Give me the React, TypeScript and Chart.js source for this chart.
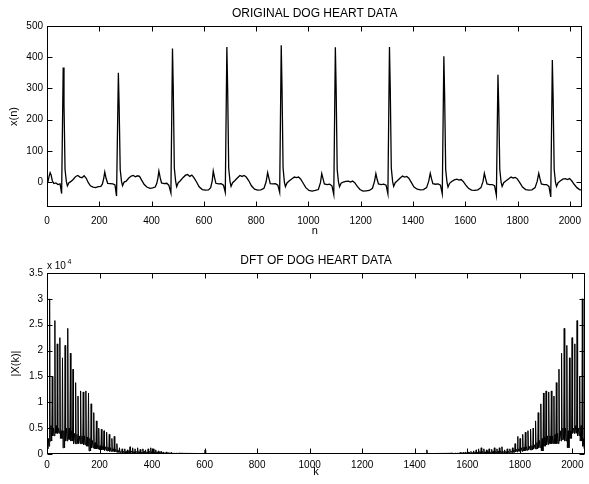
import React, { useEffect, useRef } from "react";
import { Chart, registerables } from "chart.js";

Chart.register(...registerables);

const FONT = '"Liberation Sans", Arial, Helvetica, sans-serif';

// ---- tick labels ----
const nTicks = [0, 200, 400, 600, 800, 1000, 1200, 1400, 1600, 1800, 2000];
const heartTicks = [0, 100, 200, 300, 400, 500];
const dftTicks = [0, 0.5, 1, 1.5, 2, 2.5, 3, 3.5];

// ---- ORIGINAL DOG HEART DATA: [n, x(n)] samples ----
const heartSamples: [number, number][] = [
  [0, -6], [4, 2], [8, 18], [12, 30], [16, 22], [20, 5], [26, -5], [34, -3], [42, -8], [50, -6], [56, -37],
  [62, 367], [65, 250], [69, 40], [74, 2], [78, -12], [84, -2], [92, 2], [100, 8], [110, 18], [118, 21],
  [126, 16], [134, 14], [142, 20], [150, 12], [158, -2], [166, -12], [176, -16], [186, -18], [196, -15],
  [206, -14], [212, -6], [217, 12], [221, 32], [226, 12], [232, -4], [242, -5], [252, -6], [260, -9], [266, -45],
  [273, 350], [276, 240], [280, 40], [285, 2], [289, -12], [295, 0], [303, 3], [312, 12], [322, 19], [330, 21],
  [338, 17], [346, 20], [354, 18], [362, 6], [372, -8], [382, -16], [394, -20], [404, -19], [414, -16], [420, -4],
  [424, 12], [428, 35], [433, 14], [438, -3], [448, -5], [458, -4], [466, -10], [474, -35],
  [480, 428], [483, 300], [487, 45], [492, 3], [496, -15], [502, -2], [510, 4], [520, 14], [530, 22], [538, 24],
  [546, 18], [554, 22], [562, 14], [572, 0], [582, -15], [594, -24], [606, -26], [618, -25], [626, -18], [632, 4],
  [636, 35], [641, 14], [646, -4], [656, -6], [666, -5], [675, -10], [682, -33],
  [688, 433], [691, 300], [695, 45], [700, 2], [704, -14], [710, -2], [718, 4], [728, 13], [738, 21], [746, 18],
  [754, 21], [762, 16], [772, 4], [782, -12], [794, -23], [806, -26], [818, -25], [830, -20], [838, 0], [844, 30],
  [849, 12], [854, -5], [864, -6], [874, -5], [883, -10], [890, -33],
  [896, 438], [899, 300], [903, 45], [908, 0], [912, -15], [918, -3], [926, 3], [936, 10], [946, 16], [954, 14],
  [962, 16], [970, 10], [980, -4], [990, -18], [1002, -27], [1014, -29], [1026, -27], [1038, -24], [1046, -2],
  [1051, 27], [1056, 10], [1061, -6], [1071, -8], [1081, -7], [1090, -12], [1097, -40],
  [1103, 432], [1106, 300], [1110, 40], [1115, 0], [1119, -15], [1125, -4], [1133, 0], [1143, 2], [1153, 3],
  [1161, 0], [1169, 3], [1177, -2], [1187, -14], [1197, -24], [1209, -29], [1221, -28], [1233, -27], [1245, -20],
  [1253, 3], [1258, 27], [1263, 8], [1268, -6], [1278, -8], [1288, -7], [1297, -10], [1304, -38],
  [1310, 433], [1313, 300], [1317, 45], [1322, 2], [1326, -14], [1332, -2], [1340, 4], [1350, 12], [1360, 19],
  [1368, 16], [1376, 18], [1384, 12], [1394, -2], [1404, -16], [1416, -23], [1428, -25], [1440, -24], [1452, -18],
  [1460, 2], [1466, 28], [1471, 10], [1476, -5], [1486, -7], [1496, -6], [1505, -10], [1512, -38],
  [1518, 403], [1521, 280], [1525, 40], [1530, 0], [1534, -16], [1540, -4], [1548, 2], [1558, 7], [1568, 9],
  [1576, 6], [1584, 8], [1592, 2], [1602, -10], [1612, -20], [1624, -26], [1636, -27], [1648, -25], [1660, -18],
  [1668, 2], [1673, 28], [1678, 10], [1683, -6], [1693, -8], [1703, -8], [1712, -12], [1719, -42],
  [1725, 344], [1728, 240], [1732, 40], [1737, 0], [1741, -14], [1747, -2], [1755, 3], [1765, 10], [1775, 16],
  [1783, 13], [1791, 15], [1799, 10], [1809, -3], [1819, -16], [1831, -24], [1843, -26], [1855, -25], [1867, -18],
  [1875, 2], [1881, 28], [1886, 10], [1891, -6], [1901, -8], [1911, -8], [1920, -14], [1927, -48],
  [1933, 391], [1936, 270], [1940, 40], [1945, 0], [1949, -14], [1955, -2], [1963, 3], [1973, 9], [1983, 11],
  [1991, 8], [1999, 11], [2007, 4], [2017, -8], [2027, -18], [2037, -24], [2047, -26],
];

// ---- DFT OF DOG HEART DATA (|X(k)| in units of 1e4), left half ----
const dftLowK = [0, 3, 6, 8];
const dftLowE4 = [0.25, 0.1, 0.3, 0.15];
const dftHarmonicK = [
  10, 20, 30, 39, 49, 59, 69, 79, 89, 99, 109, 118, 128, 138, 148, 158, 168, 178, 188, 197,
  207, 217, 227, 237, 247, 256, 266, 276, 286, 296, 306, 316, 326, 335, 345, 355, 365, 375, 385, 395,
  405, 414, 424, 434, 444, 454, 464, 474, 484, 494,
];
const dftPeakE4 = [
  3.0, 1.5, 2.58, 2.13, 2.25, 1.86, 2.1, 2.43, 1.95, 1.64, 1.38, 1.12, 1.22, 1.2, 1.22, 1.18, 0.97, 0.8, 0.64, 0.5,
  0.48, 0.45, 0.42, 0.38, 0.3, 0.34, 0.2, 0.12, 0.1, 0.1, 0.08, 0.14, 0.12, 0.1, 0.12, 0.09, 0.1, 0.08, 0.1, 0.12,
  0.1, 0.08, 0.06, 0.05, 0.04, 0.04, 0.03, 0.03, 0.02, 0.02,
];
const dftFloorE4 = [
  0.25, 0.35, 0.4, 0.4, 0.3, 0.12, 0.25, 0.28, 0.25, 0.2, 0.2, 0.2, 0.2, 0.18, 0.15, 0.06, 0.12, 0.1, 0.1, 0.08,
  0.08, 0.07, 0.06, 0.05, 0.05, 0.04, 0.03, 0.03, 0.02, 0.02, 0.02, 0.02, 0.02, 0.02, 0.02, 0.02, 0.015, 0.015, 0.015, 0.015,
  0.015, 0.01, 0.01, 0.01, 0.01, 0.01, 0.01, 0.01, 0.01, 0.01,
];
const dftMidE4 = [
  0.55, 0.5, 0.55, 0.5, 0.45, 0.45, 0.5, 0.5, 0.45, 0.4, 0.38, 0.35, 0.35, 0.35, 0.33, 0.3, 0.26, 0.22, 0.18, 0.16,
  0.15, 0.14, 0.13, 0.12, 0.1, 0.09, 0.07, 0.05, 0.05, 0.05, 0.05, 0.06, 0.05, 0.05, 0.05, 0.04, 0.05, 0.04, 0.05, 0.05,
  0.04, 0.04, 0.03, 0.03, 0.02, 0.02, 0.02, 0.02, 0.01, 0.01,
];
const dftTailK = [504, 520, 560, 600, 602, 604, 700, 800, 900, 1024];
const dftTailE4 = [0.015, 0.012, 0.01, 0.008, 0.08, 0.008, 0.008, 0.006, 0.006, 0.005];
const DFT_N = 2048;

function buildDft() {
  const left: { x: number; y: number }[] = [];
  dftLowK.forEach((k, i) => left.push({ x: k, y: dftLowE4[i] }));
  dftHarmonicK.forEach((k, i) => {
    left.push({ x: k, y: dftPeakE4[i] });
    left.push({ x: k + 2, y: dftFloorE4[i] });
    left.push({ x: k + 5, y: dftMidE4[i] });
    left.push({ x: k + 8, y: dftFloorE4[i] });
  });
  dftTailK.forEach((k, i) => left.push({ x: k, y: dftTailE4[i] }));
  // |X(N-k)| = |X(k)| for real data
  const right = left
    .filter((p) => p.x < DFT_N / 2)
    .map((p) => ({ x: DFT_N - p.x, y: p.y }))
    .reverse();
  return left.concat(right);
}

const framePlugin = {
  id: "frame",
  afterDraw(chart: any, _args: any, opts: any) {
    const { ctx, chartArea: a } = chart;
    const xs = chart.scales.x;
    const ys = chart.scales.y;
    ctx.save();
    ctx.strokeStyle = "#000";
    ctx.lineWidth = 1;
    const L = Math.round(a.left) + 0.5;
    const R = Math.round(a.right) - 0.5;
    const T = Math.round(a.top) + 0.5;
    const B = Math.round(a.bottom) - 0.5;
    ctx.strokeRect(L, T, R - L, B - T);
    ctx.beginPath();
    xs.ticks.forEach((t: any) => {
      const p = Math.round(xs.getPixelForValue(t.value)) + 0.5;
      ctx.moveTo(p, B);
      ctx.lineTo(p, B - 5);
      ctx.moveTo(p, T);
      ctx.lineTo(p, T + 5);
    });
    ys.ticks.forEach((t: any) => {
      const p = Math.round(ys.getPixelForValue(t.value)) + 0.5;
      ctx.moveTo(L, p);
      ctx.lineTo(L + 5, p);
      ctx.moveTo(R, p);
      ctx.lineTo(R - 5, p);
    });
    ctx.stroke();

    ctx.fillStyle = "#000";
    ctx.textAlign = "center";
    ctx.textBaseline = "middle";
    ctx.font = `12px ${FONT}`;
    ctx.fillText(opts.title, (a.left + a.right) / 2, opts.titleY);
    ctx.font = `11px ${FONT}`;
    ctx.fillText(opts.xLabel, (a.left + a.right) / 2, opts.xLabelY);
    ctx.save();
    ctx.translate(opts.yLabelX, (a.top + a.bottom) / 2);
    ctx.rotate(-Math.PI / 2);
    ctx.fillText(opts.yLabel, 0, 0);
    ctx.restore();
    if (opts.exponent) {
      ctx.textAlign = "left";
      ctx.textBaseline = "alphabetic";
      ctx.font = `10px ${FONT}`;
      ctx.fillText("x 10", 47, opts.expY);
      const w = ctx.measureText("x 10").width;
      ctx.font = `7px ${FONT}`;
      ctx.fillText(opts.exponent, 47 + w + 1.5, opts.expY - 5);
    }
    ctx.restore();
  },
};

function makeConfig(
  data: { x: number; y: number }[],
  lineW: number,
  yMin: number,
  yMax: number,
  yTicks: number[],
  padTop: number,
  xAxisH: number,
  xPad: number,
  frameOpts: any
): any {
  return {
    type: "line",
    data: {
      datasets: [
        {
          data,
          borderColor: "#000",
          borderWidth: lineW,
          pointRadius: 0,
          tension: 0,
          fill: false,
        },
      ],
    },
    options: {
      responsive: false,
      animation: false,
      devicePixelRatio: 1,
      layout: { padding: { top: padTop, right: 1, left: 0, bottom: 0 } },
      plugins: {
        legend: { display: false },
        tooltip: { enabled: false },
        title: { display: false },
        frame: frameOpts,
      },
      scales: {
        x: {
          type: "linear",
          min: 0,
          max: 2048,
          grid: { display: false, drawTicks: false },
          border: { display: false },
          afterBuildTicks: (s: any) => {
            s.ticks = nTicks.map((v) => ({ value: v }));
          },
          afterFit: (s: any) => {
            s.height = xAxisH;
          },
          ticks: {
            padding: xPad,
            color: "#000",
            maxRotation: 0,
            autoSkip: false,
            font: { family: FONT, size: 10 },
            callback: (v: any) => String(v),
          },
        },
        y: {
          type: "linear",
          min: yMin,
          max: yMax,
          grid: { display: false, drawTicks: false },
          border: { display: false },
          afterBuildTicks: (s: any) => {
            s.ticks = yTicks.map((v) => ({ value: v }));
          },
          afterFit: (s: any) => {
            s.width = 47;
          },
          ticks: {
            padding: 4,
            color: "#000",
            autoSkip: false,
            font: { family: FONT, size: 10 },
            callback: (v: any) => String(v),
          },
        },
      },
    },
    plugins: [framePlugin],
  };
}

export default function App() {
  const topRef = useRef<HTMLCanvasElement>(null);
  const botRef = useRef<HTMLCanvasElement>(null);

  useEffect(() => {
    const heartData = heartSamples.map(([n, v]) => ({ x: n, y: v }));
    const c1 = new Chart(
      topRef.current as HTMLCanvasElement,
      makeConfig(heartData, 1.3, -80, 500, heartTicks, 26, 35, 8, {
        title: "ORIGINAL DOG HEART DATA",
        titleY: 13.5,
        xLabel: "n",
        xLabelY: 231,
        yLabel: "x(n)",
        yLabelX: 14,
      })
    );
    const c2 = new Chart(
      botRef.current as HTMLCanvasElement,
      makeConfig(buildDft(), 1, 0, 3.5, dftTicks, 31, 30, 5.5, {
        title: "DFT OF DOG HEART DATA",
        titleY: 19,
        xLabel: "k",
        xLabelY: 230,
        yLabel: "|X(k)|",
        yLabelX: 16,
        exponent: "4",
        expY: 27,
      })
    );
    return () => {
      c1.destroy();
      c2.destroy();
    };
  }, []);

  return (
    <div style={{ position: "absolute", left: 0, top: 0, width: 589, height: 484, background: "#fff" }}>
      <canvas ref={topRef} width={589} height={242} style={{ display: "block", width: 589, height: 242 }} />
      <canvas ref={botRef} width={589} height={242} style={{ display: "block", width: 589, height: 242 }} />
    </div>
  );
}
